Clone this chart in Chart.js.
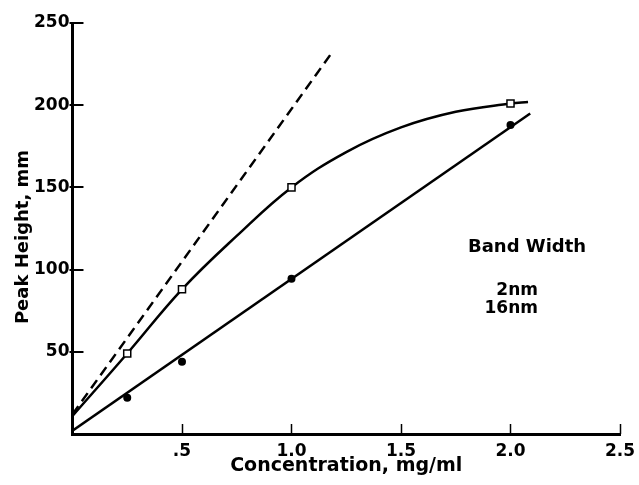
<!DOCTYPE html>
<html>
<head>
<meta charset="utf-8">
<script src="https://cdn.jsdelivr.net/npm/chart.js@4.4.0/dist/chart.umd.min.js"></script>
<style>
  html, body { margin: 0; padding: 0; background: #fff; }
  #wrap { width: 639px; height: 485px; }
</style>
</head>
<body>
<div id="wrap"><canvas id="peak"></canvas></div>
<script>
// measured points (mg/ml vs mm)
var conc = [0.25, 0.5, 1.0, 2.0];
var peak2nm = [49, 88, 150, 201];
var peak16nm = [22, 44, 94.5, 188];

// hand-drawn curve through the 2nm points
var curve2nmX = [0, 0.25, 0.5, 0.75, 1.0, 1.25, 1.5, 1.75, 2.0, 2.08];
var curve2nmY = [11, 49, 88, 120.5, 150, 171.5, 186.5, 196, 201, 202];

// straight line through the 16nm points
var line16nmX = [0, 2.09];
var line16nmY = [2, 195];

// dashed initial slope
var slopeX = [0, 1.19];
var slopeY = [12, 233];

var xTicks = [0.5, 1.0, 1.5, 2.0, 2.5];
var xTickLabels = ['.5', '1.0', '1.5', '2.0', '2.5'];
var yTicks = [50, 100, 150, 200, 250];

var legendTitle = 'Band Width';
var legendLabels = ['2nm', '16nm'];

var FONT = '"DejaVu Sans", sans-serif';

function pts(xs, ys) {
  return xs.map(function (x, i) { return { x: x, y: ys[i] }; });
}

var decor = {
  id: 'decor',
  afterDraw: function (chart) {
    var ctx = chart.ctx, area = chart.chartArea;
    var xs = chart.scales.x, ys = chart.scales.y;
    ctx.save();
    ctx.strokeStyle = '#000';
    ctx.fillStyle = '#000';

    // tick marks point into the plot
    ctx.lineWidth = 1.5;
    xTicks.forEach(function (v) {
      var px = Math.round(xs.getPixelForValue(v)) + 0.5;
      ctx.beginPath();
      ctx.moveTo(px, area.bottom);
      ctx.lineTo(px, area.bottom - 10);
      ctx.stroke();
    });
    ctx.lineWidth = 2;
    yTicks.forEach(function (v) {
      var py = Math.round(ys.getPixelForValue(v));
      ctx.beginPath();
      ctx.moveTo(area.left - 3, py);
      ctx.lineTo(area.left + 11, py);
      ctx.stroke();
    });

    // legend text
    ctx.font = 'bold 18px ' + FONT;
    ctx.textAlign = 'left';
    ctx.textBaseline = 'alphabetic';
    ctx.fillText(legendTitle, 468, 252);
    ctx.font = 'bold 17px ' + FONT;
    ctx.textAlign = 'right';
    ctx.fillText(legendLabels[0], 538, 295);
    ctx.fillText(legendLabels[1], 538, 313);

    // y axis title
    ctx.font = 'bold 18px ' + FONT;
    ctx.translate(28, 237);
    ctx.rotate(-Math.PI / 2);
    ctx.textAlign = 'center';
    ctx.fillText('Peak Height, mm', 0, 0);
    ctx.restore();
  }
};

var lineBase = {
  borderColor: '#000',
  borderWidth: 2.5,
  pointRadius: 0,
  fill: false,
  showLine: true
};

new Chart(document.getElementById('peak'), {
  type: 'line',
  data: {
    datasets: [
      {
        label: '2nm',
        data: pts(conc, peak2nm),
        showLine: false,
        pointStyle: 'rect',
        pointRadius: 5,
        pointBackgroundColor: '#fff',
        pointBorderColor: '#000',
        pointBorderWidth: 1.5
      },
      {
        label: '16nm',
        data: pts(conc, peak16nm),
        showLine: false,
        pointStyle: 'circle',
        pointRadius: 4,
        pointBackgroundColor: '#000',
        pointBorderColor: '#000',
        pointBorderWidth: 0
      },
      Object.assign({}, lineBase, {
        label: '2nm curve',
        data: pts(curve2nmX, curve2nmY),
        tension: 0.4
      }),
      Object.assign({}, lineBase, {
        label: '16nm line',
        data: pts(line16nmX, line16nmY)
      }),
      Object.assign({}, lineBase, {
        label: 'slope',
        data: pts(slopeX, slopeY),
        borderDash: [10, 6]
      })
    ]
  },
  options: {
    responsive: true,
    maintainAspectRatio: false,
    animation: false,
    layout: { padding: { left: 31, right: 0, top: 23, bottom: -3 } },
    plugins: {
      legend: { display: false },
      tooltip: { enabled: false }
    },
    scales: {
      x: {
        type: 'linear',
        min: 0,
        max: 2.5,
        grid: { display: false, drawTicks: false, tickLength: 0 },
        border: { display: true, color: '#000', width: 3 },
        afterBuildTicks: function (scale) {
          scale.ticks = xTicks.map(function (v) { return { value: v }; });
        },
        afterFit: function (scale) {
          // let the last label run closer to the edge
          scale.paddingRight = 19;
        },
        ticks: {
          color: '#000',
          padding: 9,
          maxRotation: 0,
          font: { family: FONT, size: 17, weight: 'bold', lineHeight: 1 },
          callback: function (v) {
            var i = xTicks.indexOf(v);
            return i < 0 ? '' : xTickLabels[i];
          }
        },
        title: {
          display: true,
          text: 'Concentration, mg/ml',
          color: '#000',
          padding: { top: -12, bottom: 12 },
          font: { family: FONT, size: 19, weight: 'bold', lineHeight: 1 }
        }
      },
      y: {
        min: 0,
        max: 250,
        grid: { display: false, drawTicks: false, tickLength: 0 },
        border: { display: true, color: '#000', width: 3 },
        afterBuildTicks: function (scale) {
          scale.ticks = yTicks.map(function (v) { return { value: v }; });
        },
        ticks: {
          color: '#000',
          padding: 3,
          font: { family: FONT, size: 17, weight: 'bold' }
        }
      }
    }
  },
  plugins: [decor]
});
</script>
</body>
</html>
